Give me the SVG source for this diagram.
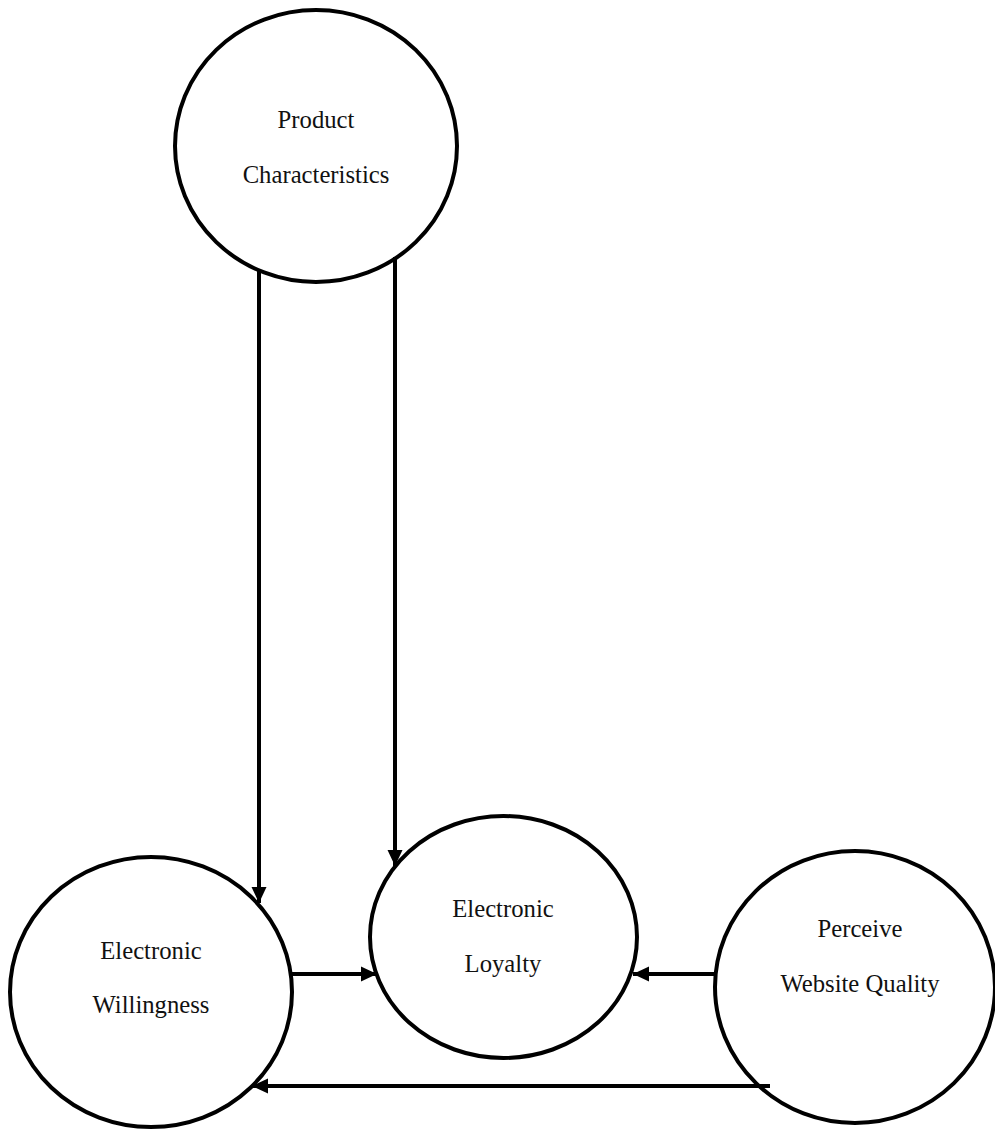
<svg xmlns="http://www.w3.org/2000/svg" width="995" height="1129" viewBox="0 0 995 1129">
<style>
.node{fill:#fff;stroke:#000;stroke-width:4}
.lbl{font-family:"Liberation Serif","Times New Roman",serif;font-size:24.7px;fill:#111;text-anchor:middle}
.edge{stroke:#000;stroke-width:4;fill:none}
</style>
<defs>
<marker id="ah" markerUnits="userSpaceOnUse" markerWidth="17" markerHeight="17" viewBox="0 0 17 17" refX="16" refY="8.5" orient="auto">
<path d="M0,1 L16,8.5 L0,16 Z" fill="#000"/>
</marker>
</defs>
<rect width="995" height="1129" fill="#fff"/>
<g id="n-product">
<ellipse class="node" cx="316" cy="146" rx="141" ry="136"/>
<text class="lbl" x="316" y="128">Product</text>
<text class="lbl" x="316" y="183">Characteristics</text>
</g>
<g id="n-willingness">
<ellipse class="node" cx="151" cy="992" rx="141" ry="135"/>
<text class="lbl" x="151" y="959">Electronic</text>
<text class="lbl" x="151" y="1013">Willingness</text>
</g>
<g id="n-loyalty">
<ellipse class="node" cx="503.5" cy="937" rx="133.5" ry="121"/>
<text class="lbl" x="503" y="917">Electronic</text>
<text class="lbl" x="503" y="972">Loyalty</text>
</g>
<g id="n-perceive">
<ellipse class="node" cx="855" cy="987" rx="140" ry="136"/>
<text class="lbl" x="860" y="937">Perceive</text>
<text class="lbl" x="860" y="992">Website Quality</text>
</g>
<g id="connectors">
<line class="edge" x1="259" y1="271" x2="259" y2="903" marker-end="url(#ah)"/>
<line class="edge" x1="395" y1="257" x2="395" y2="866" marker-end="url(#ah)"/>
<line class="edge" x1="292" y1="974" x2="377" y2="974" marker-end="url(#ah)"/>
<line class="edge" x1="715" y1="974" x2="633" y2="974" marker-end="url(#ah)"/>
<line class="edge" x1="770" y1="1086" x2="252" y2="1086" marker-end="url(#ah)"/>
</g>
</svg>
